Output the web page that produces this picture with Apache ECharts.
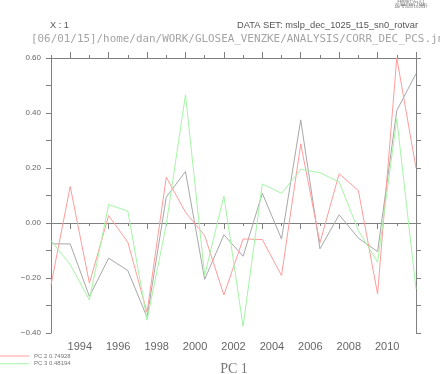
<!DOCTYPE html>
<html><head><meta charset="utf-8">
<script src="https://cdn.jsdelivr.net/npm/echarts@6/dist/echarts.min.js"></script>
<style>html,body{margin:0;padding:0;background:#fff}#c{width:440px;height:374px}</style>
</head><body><div id="c"></div>
<script>
const years = [1993,1994,1995,1996,1997,1998,1999,2000,2001,2002,2003,2004,2005,2006,2007,2008,2009,2010,2011,2012];
const pc1 = [-0.076,-0.076,-0.267,-0.128,-0.173,-0.343,0.094,0.187,-0.205,-0.043,-0.121,0.108,-0.058,0.375,-0.094,0.030,-0.055,-0.104,0.409,0.543];
const pc2 = [-0.225,0.133,-0.219,0.027,-0.070,-0.325,0.167,0.039,-0.046,-0.262,-0.058,-0.060,-0.191,0.288,-0.072,0.179,0.118,-0.258,0.600,0.200];
const pc3 = [-0.064,-0.151,-0.280,0.067,0.043,-0.353,-0.006,0.466,-0.190,0.098,-0.376,0.142,0.108,0.195,0.183,0.149,-0.027,-0.143,0.379,-0.240];
const seriesNames = ['PC 1','PC 2 0.74928','PC 3 0.48194'];
const yLabelValues = [-0.4,-0.2,0,0.2,0.4,0.6];
const xLabelYears = [1994,1996,1998,2000,2002,2004,2006,2008,2010];
const xMajorYears = [1994,1996,1998,2000,2002,2004,2006,2008,2010,2012];
const titleX = 'X : 1';
const titleData = 'DATA SET: mslp_dec_1025_t15_sn0_rotvar';
const titlePath = '[06/01/15]/home/dan/WORK/GLOSEA_VENZKE/ANALYSIS/CORR_DEC_PCS.jnl';
const stampLines = ['FERRET Ver. 6.1','NOAA/PMEL TMAP','Jan  6 2015 13:25:47'];

const axisCol = '#808080';
const chart = echarts.init(document.getElementById('c'), null, {renderer:'canvas'});
const pair = arr => years.map((y,i)=>[y,arr[i]]);
const baseX = {type:'value', min:1993, max:2012, splitLine:{show:false},
  axisLine:{show:true, lineStyle:{color:axisCol,width:1}}};
const fmtY = v => { const s = Math.abs(v).toFixed(2); return (v < -1e-9 ? '\u2212' : '') + s; };
chart.setOption({
  animation:false,
  backgroundColor:'#fff',
  grid:{left:51, right:24, top:58, bottom:41, containLabel:false, outerBoundsMode:'none'},
  xAxis:[
    Object.assign({}, baseX, {position:'bottom',
      axisTick:{show:true, length:3, lineStyle:{color:axisCol}, customValues:years},
      axisLabel:{show:true, customValues:xLabelYears.map(y=>y+0.5), formatter:v=>String(Math.floor(v)),
        fontFamily:'Liberation Sans', fontSize:11, color:'#666', margin:8}}),
    Object.assign({}, baseX, {position:'bottom', axisLine:{show:false},
      axisTick:{show:true, length:6, lineStyle:{color:axisCol}, customValues:xMajorYears},
      axisLabel:{show:false}}),
    Object.assign({}, baseX, {position:'top',
      axisTick:{show:true, length:3, lineStyle:{color:axisCol}, customValues:years},
      axisLabel:{show:false}}),
    Object.assign({}, baseX, {position:'top', axisLine:{show:false},
      axisTick:{show:true, length:6, lineStyle:{color:axisCol}, customValues:xMajorYears},
      axisLabel:{show:false}})
  ],
  yAxis:[
    {type:'value', position:'left', min:-0.4, max:0.6, interval:0.1, splitLine:{show:false},
      axisLine:{show:true, lineStyle:{color:axisCol,width:1}},
      axisTick:{show:true, length:5, lineStyle:{color:axisCol}},
      axisLabel:{show:true, customValues:yLabelValues, formatter:fmtY, fontFamily:'Liberation Sans', fontSize:8, color:'#666', margin:10}},
    {type:'value', position:'right', min:-0.4, max:0.6, interval:0.1, splitLine:{show:false},
      axisLine:{show:true, lineStyle:{color:axisCol,width:1}},
      axisTick:{show:true, length:5, lineStyle:{color:axisCol}},
      axisLabel:{show:false}}
  ],
  legend:{show:true, data:[seriesNames[1],seriesNames[2]], orient:'vertical', left:0, top:353,
    itemWidth:29, itemHeight:1, itemGap:1.7, icon:'rect', padding:0,
    textStyle:{fontFamily:'Liberation Sans', fontSize:6, color:'#777', padding:[0,0,0,0]}},
  series:[
    {name:seriesNames[0], type:'line', data:pair(pc1), symbol:'none', lineStyle:{color:'#a8a8a8', width:1}, itemStyle:{color:'#a8a8a8'}},
    {name:seriesNames[1], type:'line', data:pair(pc2), symbol:'none', lineStyle:{color:'#ff9c9c', width:1}, itemStyle:{color:'#ff9c9c'}},
    {name:seriesNames[2], type:'line', data:pair(pc3), symbol:'none', lineStyle:{color:'#a6f5a6', width:1}, itemStyle:{color:'#a6f5a6'}}
  ],
  graphic:[
    {type:'text', left:50, top:21, style:{text:titleX, font:'9.2px "Liberation Sans"', fill:'#555'}},
    {type:'text', right:22, top:21, style:{text:titleData, font:'9.3px "Liberation Sans"', fill:'#555'}},
    {type:'text', left:31, top:33.5, style:{text:titlePath, font:'10.9px "DejaVu Sans Mono"', fill:'#a4a4a4'}},
    {type:'text', x:411, y:0.5, style:{text:stampLines.join('\n'), font:'3.5px "Liberation Sans"', lineHeight:2.8, fill:'#666', align:'center'}},
    {type:'text', x:234, y:369, style:{text:seriesNames[0], font:'14px "Liberation Serif"', fill:'#777', align:'center', verticalAlign:'middle'}}
  ]
});
</script></body></html>
